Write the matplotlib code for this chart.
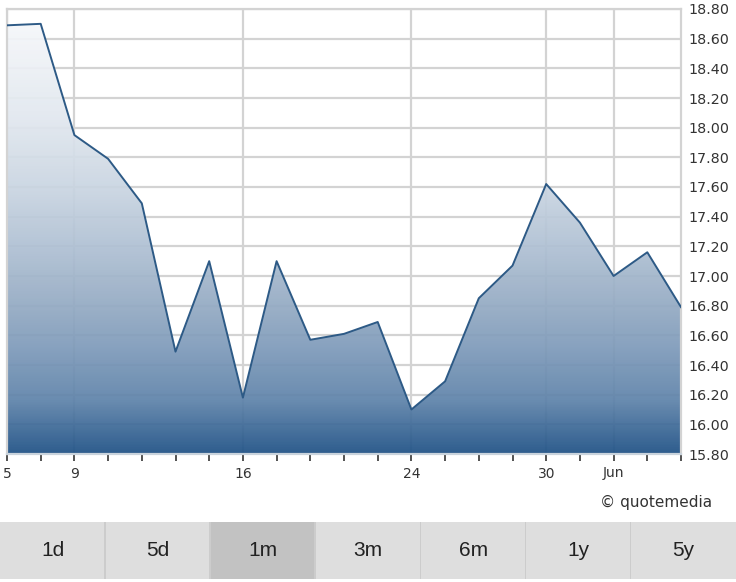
import matplotlib
matplotlib.use("Agg")
import matplotlib.pyplot as plt
import numpy as np
from matplotlib.colors import LinearSegmentedColormap, to_rgb
from matplotlib.patches import Rectangle

# ---- data ----
prices = [18.69, 18.70, 17.95, 17.79, 17.49, 16.49, 17.10, 16.18, 17.10, 16.57,
          16.61, 16.69, 16.10, 16.29, 16.85, 17.07, 17.62, 17.36, 17.00, 17.16, 16.79]
label_positions = [0, 2, 7, 12, 16, 18]
label_texts = ["5", "9", "16", "24", "30", "Jun"]
y_ticks = [15.80, 16.00, 16.20, 16.40, 16.60, 16.80, 17.00, 17.20, 17.40, 17.60,
           17.80, 18.00, 18.20, 18.40, 18.60, 18.80]
buttons = ["1d", "5d", "1m", "3m", "6m", "1y", "5y"]
selected = "1m"

W, H = 736, 582
fig = plt.figure(figsize=(W / 100, H / 100), dpi=100)
fig.patch.set_facecolor("white")

left, right, top, bottom = 7, 681, 9, 454
ax = fig.add_axes([left / W, 1 - bottom / H, (right - left) / W, (bottom - top) / H])
ymin, ymax = 15.8, 18.8
n = len(prices)
x = np.arange(n)
ax.set_xlim(0, n - 1)
ax.set_ylim(ymin, ymax)

grid_c = "#d3d3d3"
for yv in y_ticks:
    ax.axhline(yv, color=grid_c, lw=1.6, zorder=1)
for p in label_positions:
    ax.axvline(p, color=grid_c, lw=1.6, zorder=1)

# gradient fill (target colours, compensated for alpha over white)
alpha = 0.93
targets = [(0.0, "#2e5d8e"), (0.12, "#6a8cb0"), (0.24, "#88a2bf"), (0.35, "#9fb3c9"),
           (0.46, "#b4c4d6"), (0.59, "#ccd7e3"), (0.75, "#e3e9f0"), (1.0, "#f9fafc")]
stops = []
for pos, c in targets:
    t = np.array(to_rgb(c))
    comp = np.clip((t - (1 - alpha)) / alpha, 0, 1)
    stops.append((pos, tuple(comp)))
cmap = LinearSegmentedColormap.from_list("g", stops)
grad = np.linspace(0, 1, 256).reshape(-1, 1)
poly = ax.fill_between(x, prices, ymin, color="none", lw=0)
im = ax.imshow(grad, extent=[0, n - 1, ymin, ymax], origin="lower", aspect="auto",
               cmap=cmap, alpha=alpha, zorder=2)
im.set_clip_path(poly.get_paths()[0], transform=ax.transData)
ax.plot(x, prices, color="#2d5a86", lw=1.4, zorder=3)

for s in ["top", "right", "left"]:
    ax.spines[s].set_color(grid_c)
    ax.spines[s].set_linewidth(1.6)
ax.spines["bottom"].set_color("#c9d3dc")
ax.spines["bottom"].set_linewidth(1.6)

ax.set_xticks(x)
ax.set_xticklabels([""] * n)
ax.tick_params(axis="x", length=5, width=1.3, color="#444444", direction="out")
for p, t in zip(label_positions, label_texts):
    ax.annotate(t, xy=(p, ymin), xycoords="data", xytext=(0, -9),
                textcoords="offset points", ha="center", va="top", fontsize=10,
                color="#333333", family="DejaVu Sans")
ax.yaxis.tick_right()
ax.set_yticks(y_ticks)
ax.set_yticklabels([f"{v:.2f}" for v in y_ticks], fontsize=10.3, color="#333333")
ax.tick_params(axis="y", length=0, pad=5)

fig.text(712 / W, 1 - 502 / H, "\u00a9 quotemedia", ha="right", va="center",
         fontsize=11, color="#333333", family="DejaVu Sans")

by0, by1 = 522, 579
bw = W / len(buttons)
for i, b in enumerate(buttons):
    x0 = i * bw
    fc = "#c2c2c2" if b == selected else "#dedede"
    fig.patches.append(Rectangle((x0 / W, 1 - by1 / H), bw / W, (by1 - by0) / H,
                                 transform=fig.transFigure, facecolor=fc,
                                 edgecolor="none", zorder=0))
    if i > 0:
        fig.patches.append(Rectangle(((x0 - 1) / W, 1 - by1 / H), 1.5 / W, (by1 - by0) / H,
                                     transform=fig.transFigure, facecolor="#cccccc",
                                     edgecolor="none", zorder=1))
    fig.text((x0 + bw / 2) / W, 1 - 551 / H, b, ha="center", va="center",
             fontsize=15, color="#222222", family="Liberation Sans")

fig.savefig("out.png", dpi=100)
